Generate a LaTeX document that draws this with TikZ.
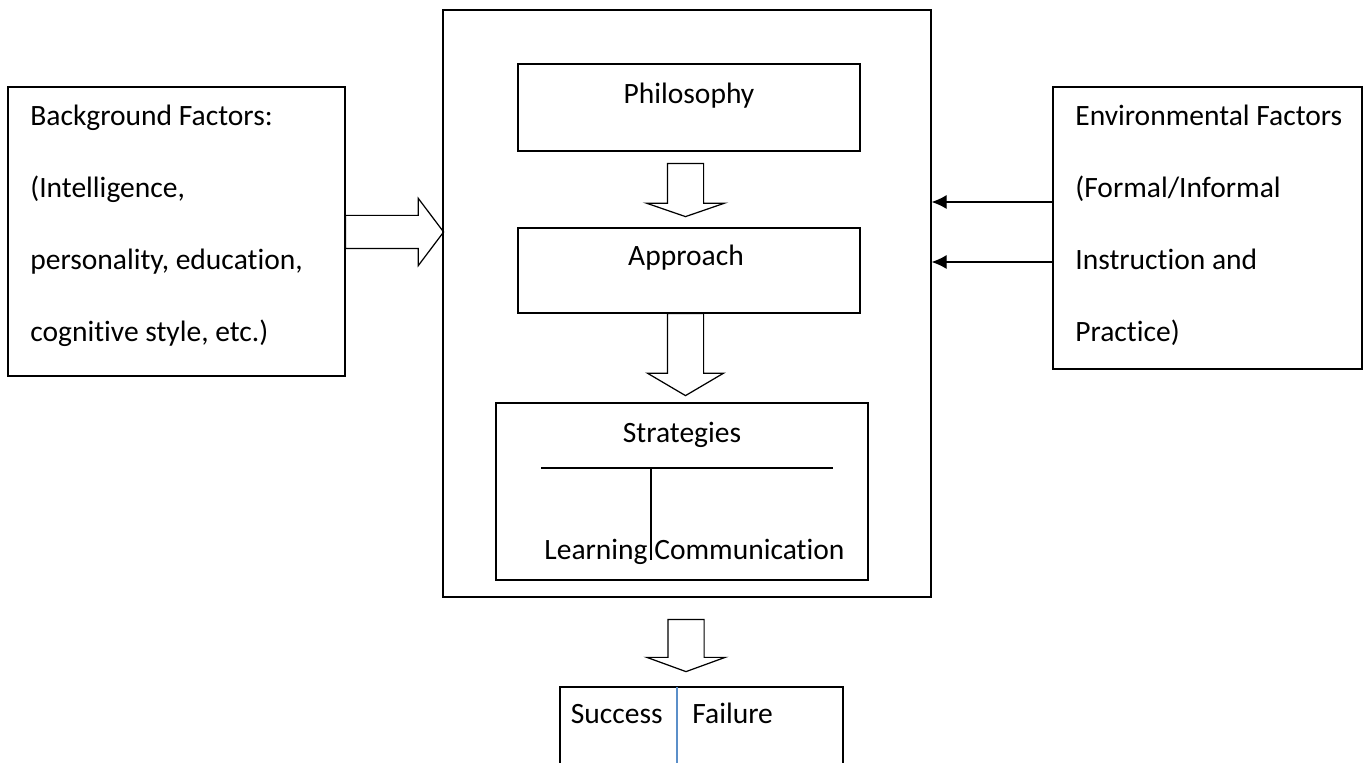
\documentclass[tikz,border=0pt]{standalone}
\usepackage{fontspec}
\setmainfont{Carlito}[Ligatures=NoCommon]
\usetikzlibrary{arrows.meta,shapes.arrows,positioning}
\newcommand{\upx}{0.02cm}
\definecolor{divblue}{RGB}{91,143,201}

\begin{document}
\begin{tikzpicture}
[x=\upx,y=-\upx,
box/.style={draw,line width=0.7pt,inner sep=0pt},
txt/.style={inner sep=0pt,font=\fontsize{16.8pt}{41pt}\selectfont},
listtxt/.style={txt,align=left,anchor=north west},
blockarrow/.style={single arrow,draw,line width=0.7pt,inner xsep=0pt,anchor=tail},
conn/.style={line width=0.7pt,-{Latex[length=0.3cm,width=0.28cm]}}]
\useasboundingbox (0,0) rectangle (1367,763);
%% outer boxes
\node[box,minimum width=337*\upx,minimum height=289*\upx] (bg) at (176.5,231.5) {};
\node[box,minimum width=488*\upx,minimum height=587*\upx] (main) at (687,303.5) {};
\node[box,minimum width=309*\upx,minimum height=282*\upx] (env) at (1207.5,228) {};
\node[listtxt] (bgtxt) at (30,105) {Background Factors:\\(Intelligence,\\personality, education,\\cognitive style, etc.)};
\node[listtxt] (envtxt) at (1075,105) {Environmental Factors\\(Formal/Informal\\Instruction and\\Practice)};
%% inner boxes
\node[box,minimum width=342*\upx,minimum height=87*\upx] (phil) at (689,107.5) {};
\node[txt] (philtxt) at (689,96) {Philosophy};
\node[box,minimum width=342*\upx,minimum height=85*\upx] (appr) at (689,270.5) {};
\node[txt] (apprtxt) at (686,258) {Approach};
\node[box,minimum width=372*\upx,minimum height=177*\upx] (strat) at (682,491.5) {};
\node[txt] (strattxt) at (682,435) {Strategies};
\node[txt,anchor=base east] (learn) at (648,560) {Learning};
\node[txt,anchor=base west] (comm) at (654,560) {Communication};
\draw[line width=0.7pt] (541,468) -- (833,468);
\draw[line width=0.7pt] (651,468) -- (651,560);
% result
\node[box,minimum width=283*\upx,minimum height=120*\upx] (result) at (701.5,747) {};
\node[txt,anchor=base east] (succ) at (663,724) {Success};
\node[txt,anchor=base west] (fail) at (692,724) {Failure};
\draw[divblue,line width=0.7pt] (677,687) -- (677,810);
%% block arrows
\node[blockarrow,rotate=-90,inner ysep=17.5*\upx,single arrow head extend=21*\upx,
  single arrow tip angle=142,minimum height=53*\upx] (a1) at (685.5,163) {};
\node[blockarrow,rotate=-90,inner ysep=17.5*\upx,single arrow head extend=20*\upx,
  single arrow tip angle=119,minimum height=82*\upx] (a2) at (685.5,313) {};
\node[blockarrow,rotate=-90,inner ysep=17.5*\upx,single arrow head extend=21*\upx,
  single arrow tip angle=140,minimum height=52*\upx] (a3) at (686,619) {};
\node[blockarrow,inner ysep=16*\upx,single arrow head extend=17*\upx,
  single arrow tip angle=106,minimum height=98*\upx] (a4) at (345,232) {};
%% environment arrows
\coordinate (e1) at ([yshift=26*\upx]env.west);
\coordinate (e2) at ([yshift=-34*\upx]env.west);
\draw[conn] (e1) -- (e1 -| main.east);
\draw[conn] (e2) -- (e2 -| main.east);
\end{tikzpicture}
\end{document}
